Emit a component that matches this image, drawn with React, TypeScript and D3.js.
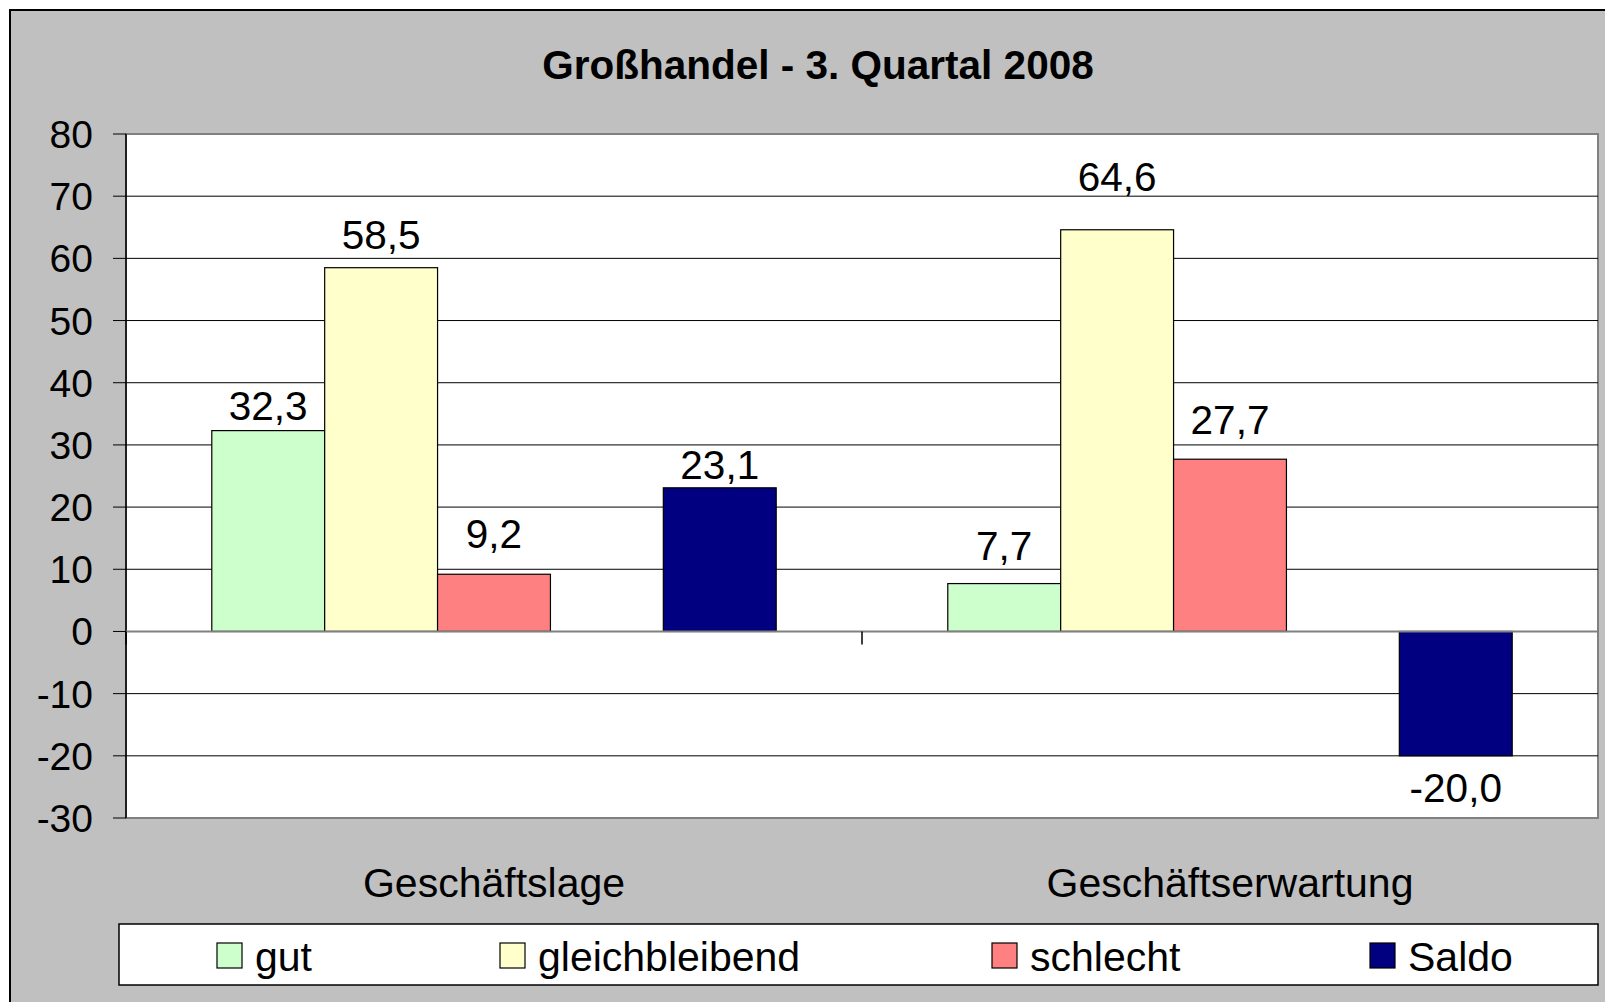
import * as d3 from 'd3'

const categories = ['Geschäftslage', 'Geschäftserwartung']
const seriesNames = ['gut', 'gleichbleibend', 'schlecht', 'Saldo']
const seriesColors = ['#ccffcc', '#ffffcc', '#ff8080', '#000080']
// values per series, in category order
const gutValues = [32.3, 7.7]
const gleichValues = [58.5, 64.6]
const schlechtValues = [9.2, 27.7]
const saldoValues = [23.1, -20.0]
const yTicks = [80, 70, 60, 50, 40, 30, 20, 10, 0, -10, -20, -30]
const title = 'Großhandel - 3. Quartal 2008'

// the data labels were hand-moved in the original, small vertical nudges (px, up = positive)
const labelNudge = [
  [-7, 6],
  [1, 21],
  [8, 7],
  [-9, 0],
]

// slot order inside a category; empty slot between schlecht and Saldo
const slots = ['gut', 'gleichbleibend', 'schlecht', '_gap', 'Saldo']

const W = 1605
const H = 1002
const plot = { left: 126, right: 1598, top: 134, bottom: 818 }
const font = 'Liberation Sans, Arial, Helvetica, sans-serif'

const App = () => {
  const values = [gutValues, gleichValues, schlechtValues, saldoValues]

  const x0 = d3.scaleBand().domain(categories).range([plot.left, plot.right])
  const groupW = x0.bandwidth() * (5 / 6.52)
  const x1 = d3
    .scaleBand()
    .domain(slots)
    .range([(x0.bandwidth() - groupW) / 2, (x0.bandwidth() + groupW) / 2])

  const y = d3.scaleLinear().domain([-30, 80]).range([plot.bottom, plot.top])

  const fmt = (v: number) => v.toFixed(1).replace('.', ',')

  const legendX = [217, 500, 992, 1370]

  return (
    <svg width={W} height={H} style={{ position: 'absolute', left: 0, top: 0 }} fontFamily={font}>
      <rect x={10} y={10} width={W} height={H} fill="#c0c0c0" stroke="#000" strokeWidth={2} />
      <text x={818} y={79} textAnchor="middle" fontSize={40.5} fontWeight="bold">
        {title}
      </text>

      {/* plot area */}
      <rect
        x={plot.left}
        y={plot.top}
        width={plot.right - plot.left}
        height={plot.bottom - plot.top}
        fill="#fff"
        stroke="#808080"
        strokeWidth={2}
      />
      {yTicks.map(t => (
        <g key={t}>
          {t !== 80 && t !== -30 && t !== 0 && (
            <line x1={plot.left} x2={plot.right} y1={y(t)} y2={y(t)} stroke="#000" strokeWidth={1} />
          )}
          <line x1={113} x2={plot.left} y1={y(t)} y2={y(t)} stroke="#000" strokeWidth={1} />
          <text x={93} y={y(t)} dy="0.36em" textAnchor="end" fontSize={39}>
            {t}
          </text>
        </g>
      ))}
      <line x1={plot.left} x2={plot.left} y1={plot.top} y2={plot.bottom} stroke="#000" strokeWidth={1.5} />

      {/* bars */}
      {categories.map((c, ci) =>
        seriesNames.map((s, si) => {
          const v = values[si][ci]
          const bx = x0(c)! + x1(s)!
          const top = Math.min(y(v), y(0))
          const h = Math.abs(y(v) - y(0))
          const ly = (v >= 0 ? y(v) - 18 : y(v) + 46) - labelNudge[si][ci]
          return (
            <g key={c + s}>
              <rect x={bx} y={top} width={x1.bandwidth()} height={h} fill={seriesColors[si]} stroke="#000" strokeWidth={1.2} />
              <text x={bx + x1.bandwidth() / 2} y={ly} textAnchor="middle" fontSize={40.5}>
                {fmt(v)}
              </text>
            </g>
          )
        })
      )}

      {/* x axis at zero */}
      <line x1={plot.left} x2={plot.right} y1={y(0)} y2={y(0)} stroke="#808080" strokeWidth={2} />
      <line x1={plot.left} x2={plot.left} y1={y(0)} y2={y(0) + 13} stroke="#000" strokeWidth={1.5} />
      {categories.slice(1).map(c => (
        <line key={c} x1={x0(c)!} x2={x0(c)!} y1={y(0)} y2={y(0) + 13} stroke="#000" strokeWidth={1.5} />
      ))}
      {categories.map(c => (
        <text key={c} x={x0(c)! + x0.bandwidth() / 2} y={897} textAnchor="middle" fontSize={41}>
          {c}
        </text>
      ))}

      {/* legend */}
      <rect x={119} y={924} width={1479} height={61} fill="#fff" stroke="#000" strokeWidth={1.5} />
      {seriesNames.map((s, i) => (
        <g key={s}>
          <rect x={legendX[i]} y={943} width={25} height={25} fill={seriesColors[i]} stroke="#000" strokeWidth={1.2} />
          <text x={legendX[i] + 38} y={971} fontSize={41}>
            {s}
          </text>
        </g>
      ))}
    </svg>
  )
}

export default App
